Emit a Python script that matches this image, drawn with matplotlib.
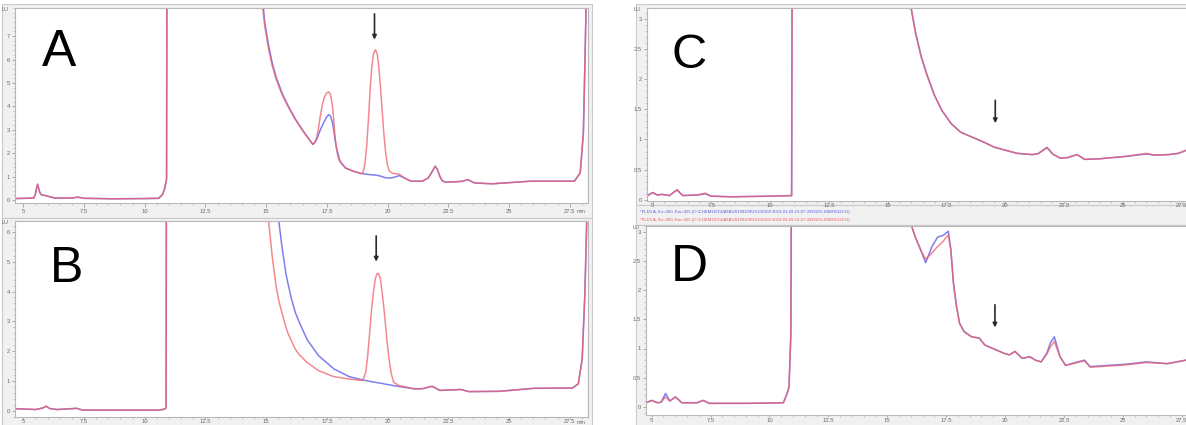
import matplotlib
matplotlib.use("Agg")
import matplotlib.pyplot as plt
from matplotlib.ticker import MultipleLocator, FixedLocator
from matplotlib.patches import Rectangle

# ---------------- data (retention time in min, signal in LU) ----------------
a_time = [4.67, 5.43, 5.50, 5.55, 5.59, 5.63, 5.68, 5.75, 5.85, 5.98,
          6.30, 7.0, 7.25, 7.5, 8.76, 10.0, 10.58, 10.74, 10.82, 10.90,
          10.95, 12.5, 14.7, 14.86, 14.94, 15.10, 15.25, 15.41, 15.65, 15.89,
          16.20, 16.52, 16.75, 16.92, 17.00, 17.08, 17.16, 17.23, 17.31, 17.39,
          17.48, 17.57, 17.65, 17.73, 17.78, 17.82, 17.88, 17.95, 18.01, 18.07,
          18.26, 18.58, 18.90, 18.98, 19.06, 19.14, 19.22, 19.29, 19.35, 19.42,
          19.50, 19.57, 19.63, 19.70, 19.77, 19.84, 19.92, 20.00, 20.08, 20.20,
          20.48, 20.67, 20.96, 21.43, 21.67, 21.80, 21.96, 22.05, 22.15, 22.25,
          22.39, 22.86, 23.10, 23.30, 23.57, 24.29, 25.87, 27.69, 27.93, 28.06,
          28.12, 28.17, 28.3]
a_red = [0.06, 0.08, 0.25, 0.52, 0.68, 0.52, 0.32, 0.22, 0.20, 0.17,
         0.08, 0.08, 0.12, 0.07, 0.05, 0.06, 0.07, 0.25, 0.48, 0.9,
         30, 30, 30, 8.2, 7.44, 6.44, 5.73, 5.16, 4.51, 4.01,
         3.44, 2.94, 2.6, 2.37, 2.45, 2.66, 3.1, 3.59, 4.05, 4.37,
         4.56, 4.62, 4.5, 4.01, 3.45, 2.87, 2.3, 1.87, 1.68, 1.59,
         1.37, 1.23, 1.13, 1.15, 1.5, 2.3, 3.6, 4.87, 5.7, 6.25,
         6.42, 6.25, 5.75, 4.9, 3.9, 2.9, 2.0, 1.45, 1.22, 1.14,
         1.10, 0.95, 0.80, 0.80, 0.94, 1.15, 1.44, 1.3, 1.01, 0.82,
         0.76, 0.78, 0.80, 0.87, 0.73, 0.69, 0.80, 0.80, 1.16, 2.87,
         5.7, 8.2, 30]
a_blue = [0.06, 0.08, 0.25, 0.51, 0.66, 0.51, 0.32, 0.22, 0.20, 0.17,
          0.08, 0.08, 0.12, 0.07, 0.05, 0.06, 0.07, 0.25, 0.48, 0.9,
          30, 30, 30, 8.5, 7.6, 6.6, 5.85, 5.25, 4.58, 4.05,
          3.46, 2.95, 2.62, 2.38, 2.45, 2.59, 2.8, 3.0, 3.18, 3.35,
          3.52, 3.65, 3.58, 3.3, 3.0, 2.7, 2.3, 2.01, 1.75, 1.62,
          1.37, 1.23, 1.13, 1.12, 1.11, 1.10, 1.09, 1.08, 1.075, 1.07,
          1.06, 1.05, 1.04, 1.02, 1.00, 0.97, 0.95, 0.94, 0.94, 0.95,
          1.04, 0.95, 0.80, 0.80, 0.94, 1.15, 1.44, 1.3, 1.01, 0.82,
          0.76, 0.78, 0.80, 0.87, 0.73, 0.69, 0.80, 0.80, 1.16, 2.87,
          5.7, 8.2, 30]

b_time = [4.67, 5.50, 5.80, 5.94, 6.10, 6.40, 7.20, 7.45, 8.50, 10.58,
          10.80, 10.88, 10.93, 12.5, 15.0, 15.10, 15.25, 15.41, 15.52, 15.65,
          15.81, 15.89, 16.05, 16.20, 16.37, 16.68, 17.16, 17.79, 18.42, 18.98,
          19.10, 19.18, 19.26, 19.34, 19.42, 19.50, 19.57, 19.63, 19.70, 19.77,
          19.84, 19.90, 19.98, 20.06, 20.15, 20.25, 20.48, 21.12, 21.45, 21.83,
          22.15, 23.02, 23.34, 24.60, 26.03, 27.61, 27.85, 28.01, 28.12, 28.20,
          28.3]
b_red = [0.08, 0.05, 0.10, 0.16, 0.08, 0.05, 0.09, 0.03, 0.03, 0.03,
         0.06, 0.1, 30, 30, 30, 6.36, 5.17, 4.17, 3.7, 3.29,
         2.82, 2.62, 2.33, 2.07, 1.88, 1.63, 1.35, 1.15, 1.07, 1.02,
         1.3, 1.85, 2.6, 3.4, 4.0, 4.45, 4.6, 4.6, 4.45, 4.0,
         3.5, 3.0, 2.3, 1.74, 1.25, 0.96, 0.85, 0.74, 0.75, 0.83,
         0.69, 0.72, 0.65, 0.66, 0.76, 0.77, 0.91, 1.74, 3.9, 6.4,
         30]
b_blue = [0.08, 0.05, 0.10, 0.16, 0.08, 0.05, 0.09, 0.03, 0.03, 0.03,
          0.06, 0.1, 30, 30, 30, 30, 30, 30, 6.36, 5.5,
          4.62, 4.3, 3.73, 3.3, 2.96, 2.4, 1.85, 1.41, 1.15, 1.04,
          1.02, 1.01, 0.995, 0.98, 0.97, 0.96, 0.95, 0.94, 0.935, 0.925,
          0.91, 0.90, 0.89, 0.88, 0.865, 0.85, 0.82, 0.74, 0.75, 0.83,
          0.69, 0.72, 0.65, 0.66, 0.76, 0.77, 0.91, 1.74, 3.9, 6.4,
          30]

c_time = [4.81, 5.00, 5.19, 5.40, 5.72, 5.88, 6.04, 6.28, 6.92, 7.24,
          7.48, 8.35, 9.95, 10.91, 10.97, 13.0, 15.85, 15.99, 16.18, 16.42,
          16.66, 16.98, 17.30, 17.70, 18.10, 18.58, 19.06, 19.54, 20.02, 20.50,
          21.13, 21.37, 21.77, 22.01, 22.33, 22.65, 23.05, 23.37, 24.01, 25.13,
          26.01, 26.33, 26.96, 27.36, 27.68]
c_red = [0.07, 0.12, 0.08, 0.09, 0.07, 0.12, 0.17, 0.07, 0.08, 0.11,
         0.06, 0.05, 0.06, 0.07, 10, 10, 10, 3.18, 2.76, 2.37,
         2.07, 1.73, 1.48, 1.26, 1.12, 1.04, 0.96, 0.87, 0.82, 0.77,
         0.75, 0.76, 0.86, 0.76, 0.69, 0.70, 0.75, 0.67, 0.68, 0.72,
         0.77, 0.74, 0.75, 0.77, 0.82]
c_blue = [0.08, 0.12, 0.08, 0.09, 0.07, 0.12, 0.16, 0.07, 0.08, 0.10,
          0.06, 0.05, 0.06, 0.07, 10, 10, 10, 3.18, 2.77, 2.38,
          2.08, 1.74, 1.48, 1.26, 1.12, 1.04, 0.96, 0.87, 0.82, 0.77,
          0.75, 0.76, 0.87, 0.76, 0.69, 0.70, 0.75, 0.67, 0.68, 0.72,
          0.76, 0.74, 0.75, 0.77, 0.82]

d_time = [4.76, 5.00, 5.24, 5.40, 5.59, 5.77, 6.01, 6.28, 6.92, 7.19,
          7.43, 9.15, 10.59, 10.75, 10.83, 10.91, 10.96, 13.0, 15.85, 15.99,
          16.18, 16.42, 16.63, 16.90, 17.14, 17.38, 17.59, 17.70, 17.81, 17.94,
          18.07, 18.26, 18.58, 18.90, 19.14, 19.54, 19.94, 20.18, 20.42, 20.73,
          21.05, 21.29, 21.53, 21.77, 21.93, 22.09, 22.20, 22.33, 22.57, 22.89,
          23.37, 23.61, 24.01, 25.13, 26.01, 26.88, 27.68]
d_blue = [0.07, 0.11, 0.07, 0.08, 0.23, 0.10, 0.17, 0.07, 0.07, 0.11,
          0.06, 0.06, 0.07, 0.23, 0.34, 1.26, 8, 8, 8, 3.15,
          2.92, 2.69, 2.47, 2.75, 2.91, 2.94, 3.01, 2.69, 2.12, 1.72,
          1.43, 1.29, 1.20, 1.18, 1.06, 0.99, 0.92, 0.89, 0.95, 0.83,
          0.86, 0.80, 0.77, 0.92, 1.10, 1.20, 1.05, 0.86, 0.71, 0.75,
          0.80, 0.69, 0.70, 0.73, 0.77, 0.74, 0.80]
d_red = [0.07, 0.11, 0.07, 0.08, 0.17, 0.10, 0.17, 0.07, 0.07, 0.11,
         0.06, 0.06, 0.07, 0.23, 0.34, 1.26, 8, 8, 8, 3.15,
         2.92, 2.69, 2.53, 2.64, 2.75, 2.84, 2.95, 2.69, 2.12, 1.72,
         1.43, 1.29, 1.20, 1.18, 1.06, 0.99, 0.92, 0.89, 0.95, 0.83,
         0.86, 0.80, 0.77, 0.90, 1.03, 1.12, 1.00, 0.86, 0.71, 0.74,
         0.79, 0.68, 0.69, 0.72, 0.76, 0.74, 0.80]

x_ticks = [5, 7.5, 10, 12.5, 15, 17.5, 20, 22.5, 25, 27.5]
x_tick_labels = ["5", "7.5", "10", "12.5", "15", "17.5", "20", "22.5", "25", "27.5"]
a_yticks = [0, 1, 2, 3, 4, 5, 6, 7]
b_yticks = [0, 1, 2, 3, 4, 5, 6]
cd_yticks = [0, 0.5, 1, 1.5, 2, 2.5, 3]
cd_ytick_labels = ["0", "0.5", "1", "1.5", "2", "2.5", "3"]
legend_lines = [
    "*FLD1 A, Ex=360, Em=425 (C:\\CHEM32\\1\\DATA\\20190109\\20190109 2019-01-09 19-07-39\\0109-180000122.D)",
    "*FLD1 A, Ex=360, Em=425 (C:\\CHEM32\\1\\DATA\\20190109\\20190109 2019-01-09 19-07-39\\0109-180000132.D)",
]
arrow_pos = {"A": (19.46, 7.95, 6.85), "B": (19.53, 5.86, 5.0),
             "C": (19.57, 1.65, 1.27), "D": (19.57, 1.75, 1.36)}

# ---------------- layout ----------------
W, H = 1186, 425
fig = plt.figure(figsize=(W / 100, H / 100), dpi=100)
fig.patch.set_facecolor("white")
plt.rcParams["font.family"] = ["Liberation Sans", "DejaVu Sans"]

RED = "#f0606e"
BLUE = "#6868ec"
PANEL_BG = "#f1f1f1"
EDGE = "#c9c9c9"


def fbox(x0, y0, x1, y1):
    return [x0 / W, 1 - y1 / H, (x1 - x0) / W, (y1 - y0) / H]


def frame(x0, y0, x1, y1):
    l, b, w, h = fbox(x0, y0, x1, y1)
    fig.patches.append(Rectangle((l, b), w, h, transform=fig.transFigure,
                                 facecolor=PANEL_BG, edgecolor=EDGE, lw=0.8,
                                 zorder=-10))


frame(2, 4, 592, 218)
frame(2, 218, 592, 426)
frame(636, 4, 1190, 205)
frame(636, 205, 1190, 225)
frame(636, 225, 1190, 426)


def panel(box, t, red, blue, xlim, ylim, yticks, yticklabels, ylabel_minor,
          letter, letter_pos, letter_size, show_min, xpad, right_spine=True):
    ax = fig.add_axes(fbox(*box))
    ax.set_zorder(5)
    ax.set_facecolor("white")
    ax.plot(t, blue, color=BLUE, lw=1.1, alpha=0.85, solid_joinstyle="round")
    ax.plot(t, red, color=RED, lw=1.1, alpha=0.75, solid_joinstyle="round")
    ax.set_xlim(*xlim)
    ax.set_ylim(*ylim)
    ax.xaxis.set_major_locator(FixedLocator(x_ticks))
    ax.set_xticklabels(x_tick_labels)
    ax.xaxis.set_minor_locator(MultipleLocator(0.5))
    ax.yaxis.set_major_locator(FixedLocator(yticks))
    ax.set_yticklabels(yticklabels)
    ax.yaxis.set_minor_locator(MultipleLocator(ylabel_minor))
    ax.tick_params(axis="both", which="major", direction="out", length=2.5,
                   width=0.6, color="#9a9a9a", labelsize=4.2,
                   labelcolor="#6a6a6a", pad=1.2)
    ax.tick_params(axis="x", which="major", length=xpad[0], pad=xpad[1])
    ax.tick_params(axis="both", which="minor", direction="out", length=1.3,
                   width=0.5, color="#b0b0b0")
    for s in ax.spines.values():
        s.set_color("#b8b8b8")
        s.set_linewidth(0.8)
    if not right_spine:
        ax.spines["right"].set_visible(False)
    ax.text(-0.012, 0.99, "LU", transform=ax.transAxes, fontsize=4,
            color="#6a6a6a", ha="right", va="center")
    if show_min:
        ax.text(0.995, -0.045 if letter == "A" else -0.03, "min",
                transform=ax.transAxes, fontsize=4,
                color="#6a6a6a", ha="right", va="center")
    ax.text(letter_pos[0], letter_pos[1], letter, transform=ax.transAxes,
            fontsize=letter_size, color="black", ha="left", va="baseline")
    at, y0, y1 = arrow_pos[letter]
    ax.annotate("", xy=(at, y1), xytext=(at, y0),
                arrowprops=dict(arrowstyle="-|>", color="#2a2a2a", lw=1.2,
                                mutation_scale=6, shrinkA=0, shrinkB=0))
    return ax


panel((15, 8, 588, 203), a_time, a_red, a_blue, (4.66, 28.25), (-0.13, 8.2),
      a_yticks, [str(v) for v in a_yticks], 0.2, "A", (0.047, 0.70), 37, True,
      (3, 1.5))
panel((15, 221, 588, 417), b_time, b_red, b_blue, (4.66, 28.25), (-0.2, 6.36),
      b_yticks, [str(v) for v in b_yticks], 0.2, "B", (0.061, 0.69), 36, True,
      (1.5, 0.2))
panel((647, 8, 1186, 201), c_time, c_red, c_blue, (4.76, 27.68), (-0.02, 3.18),
      cd_yticks, cd_ytick_labels, 0.1, "C", (0.045, 0.69), 35, False,
      (1.2, 0.3), right_spine=False)
panel((646, 226, 1186, 415), d_time, d_red, d_blue, (4.76, 27.68), (-0.14, 3.1),
      cd_yticks, cd_ytick_labels, 0.1, "D", (0.046, 0.71), 37, False,
      (1.5, 0.5), right_spine=False)

# legend strip text between C and D
fig.text(640 / W, 1 - 212 / H, legend_lines[0], fontsize=3.1, color="#5a5ae0",
         ha="left", va="center", zorder=6)
fig.text(640 / W, 1 - 219.5 / H, legend_lines[1], fontsize=3.1, color="#e85a66",
         ha="left", va="center", zorder=6)

fig.savefig("out.png", dpi=100, facecolor="white")
